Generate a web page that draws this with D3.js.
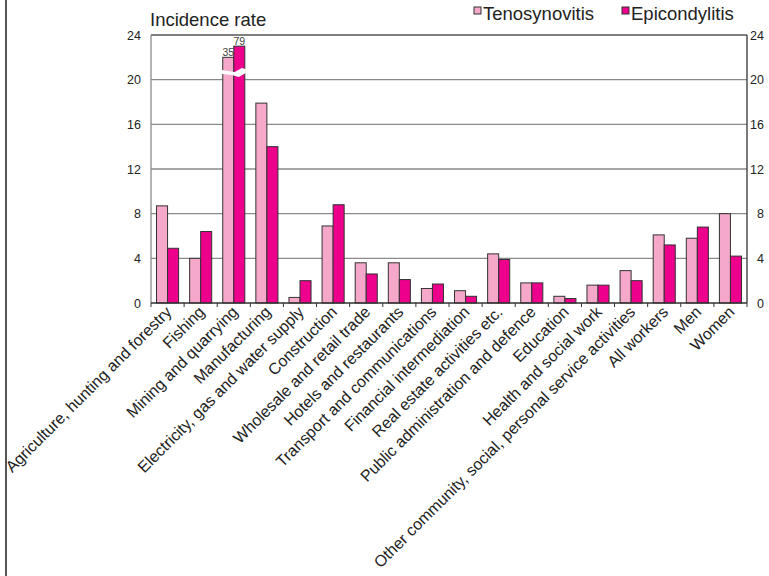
<!DOCTYPE html>
<html><head><meta charset="utf-8">
<script src="https://cdn.jsdelivr.net/npm/d3@7"></script>
<style>body{margin:0;background:#fff}svg{display:block}</style>
</head><body><svg id="c" width="769" height="576"></svg>
<script>
const categories = ["Agriculture, hunting and forestry","Fishing","Mining and quarrying","Manufacturing","Electricity, gas and water supply","Construction","Wholesale and retail trade","Hotels and restaurants","Transport and communications","Financial intermediation","Real estate activities etc.","Public administration and defence","Education","Health and social work","Other community, social, personal service activities","All workers","Men","Women"];
const seriesNames = ["Tenosynovitis","Epicondylitis"];
const tenosynovitis = [8.7,4.0,35,17.9,0.5,6.9,3.6,3.6,1.3,1.1,4.4,1.8,0.6,1.6,2.9,6.1,5.8,8.0];
const epicondylitis = [4.9,6.4,79,14.0,2.0,8.8,2.6,2.1,1.7,0.6,3.9,1.8,0.4,1.6,2.0,5.2,6.8,4.2];
const yTicks = [0,4,8,12,16,20,24];
// values that exceed the axis are drawn as broken bars at these heights
const brokenShown = {"35":22,"79":23};

const colors = {"Tenosynovitis":"#f5a8ca","Epicondylitis":"#ec008c"};
const svg = d3.select("#c");
const L=151,R=747,T=35,B=303;
const x = d3.scaleBand().domain(categories).range([L,R]).padding(0);
const bw = x.bandwidth();
const xs = d3.scaleBand().domain(seriesNames).range([bw/6,bw*5/6]).padding(0);
const y = d3.scaleLinear().domain([0,24]).range([B,T]);
const font = "Liberation Sans, Arial, sans-serif";

// outer frame line
svg.append("line").attr("x1",6).attr("x2",6).attr("y1",0).attr("y2",576).attr("stroke","#555").attr("stroke-width",2);

// gridlines
svg.append("g").selectAll("line").data(yTicks.filter(d=>d>0)).join("line")
  .attr("x1",L).attr("x2",R).attr("y1",d=>y(d)).attr("y2",d=>y(d))
  .attr("stroke",d=>d===24?"#555":"#8a8a8a").attr("stroke-width",1.3);

// bars
const rows = categories.map((c,i)=>({c, vals:[{s:"Tenosynovitis",v:tenosynovitis[i]},{s:"Epicondylitis",v:epicondylitis[i]}]}));
const g = svg.append("g");
rows.forEach(r=>{
  r.vals.forEach(d=>{
    const shown = d.v>24 ? brokenShown[String(d.v)] : d.v;
    g.append("rect").attr("x",x(r.c)+xs(d.s)).attr("y",y(shown))
      .attr("width",xs.bandwidth()).attr("height",B-y(shown))
      .attr("fill",colors[d.s]).attr("stroke","#333").attr("stroke-width",1);
    if(d.v>24){
      g.append("text").attr("x",x(r.c)+xs(d.s)+xs.bandwidth()/2).attr("y",y(shown)-1.5)
        .attr("text-anchor","middle").attr("font-family",font).attr("font-size",10.5).attr("fill","#444").text(d.v);
    }
  });
});
// break mark over Mining bars
const mi = categories[2];
const bx0 = x(mi)+xs("Tenosynovitis")-1, bx1 = x(mi)+xs("Epicondylitis")+xs.bandwidth()+1;
const by = y(20.6);
const mid = (bx0+bx1)/2;
svg.append("path").attr("fill","#fff")
  .attr("d",`M${bx0},${by-3} L${mid+1},${by-1} L${mid+8},${by-5} L${bx1},${by-4} L${bx1},${by} L${mid+5},${by+4} L${mid-2},${by+2} L${bx0},${by+1} Z`);

// axes lines
svg.append("line").attr("x1",L).attr("x2",L).attr("y1",T).attr("y2",B).attr("stroke","#8a8a8a").attr("stroke-width",1.3);
svg.append("line").attr("x1",R).attr("x2",R).attr("y1",T).attr("y2",B).attr("stroke","#333").attr("stroke-width",1.3);
svg.append("line").attr("x1",L).attr("x2",R).attr("y1",B).attr("y2",B).attr("stroke","#333").attr("stroke-width",1.3);
// x ticks at band boundaries
svg.append("g").selectAll("line").data(categories).join("line")
  .attr("x1",d=>x(d)).attr("x2",d=>x(d)).attr("y1",B).attr("y2",B+4).attr("stroke","#333");
svg.append("line").attr("x1",R).attr("x2",R).attr("y1",B).attr("y2",B+4).attr("stroke","#333");

// y tick labels
svg.append("g").selectAll("text").data(yTicks).join("text")
  .attr("x",141).attr("y",d=>y(d)+4.5).attr("text-anchor","end")
  .attr("font-family",font).attr("font-size",12.5).attr("fill","#222").text(d=>d);
svg.append("g").selectAll("text").data(yTicks).join("text")
  .attr("x",764).attr("y",d=>y(d)+4.5).attr("text-anchor","end")
  .attr("font-family",font).attr("font-size",12.5).attr("fill","#222").text(d=>d);

// x labels
svg.append("g").selectAll("text").data(categories).join("text")
  .attr("transform",d=>`translate(${x(d)+bw/2+5},${B+10}) rotate(-45)`)
  .attr("text-anchor","end").attr("font-family",font).attr("font-size",16).attr("fill","#222").text(d=>d);

// title
svg.append("text").attr("x",150).attr("y",26).attr("font-family",font).attr("font-size",18.5).attr("fill","#222").text("Incidence rate");

// legend
const legX = [474,622];
seriesNames.forEach((s,i)=>{
  svg.append("rect").attr("x",legX[i]).attr("y",7).attr("width",7).attr("height",7)
    .attr("fill",colors[s]).attr("stroke","#333").attr("stroke-width",1);
  svg.append("text").attr("x",legX[i]+9).attr("y",20).attr("font-family",font).attr("font-size",18.5).attr("fill","#222").text(s);
});
</script></body></html>
